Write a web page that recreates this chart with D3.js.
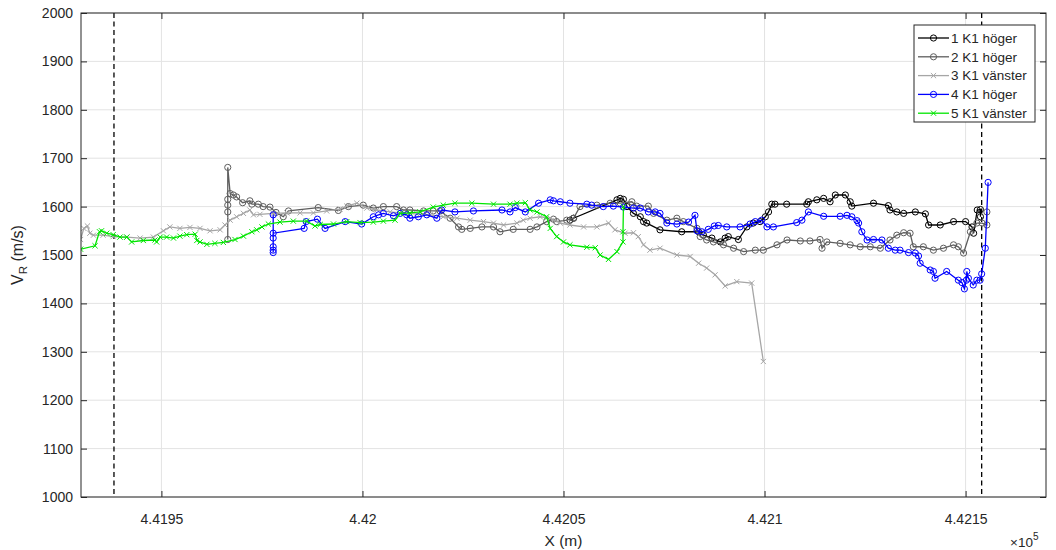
<!DOCTYPE html>
<html>
<head>
<meta charset="utf-8">
<script src="https://cdn.jsdelivr.net/npm/d3@7"></script>
<style>
  body { margin: 0; background: #fff; }
  svg text { font-family: "Liberation Sans", Arial, sans-serif; fill: #262626; }
</style>
</head>
<body>
<div id="main"></div>
<script>
// series data: [X (m), V_R (m/s)]
var s1 = [[442051.6,1572],[442052.5,1576],[442063.3,1614],[442064.1,1617],[442064.9,1615],[442065.8,1600],[442067.4,1586],[442069.1,1579],[442069.9,1569],[442070.7,1566],[442074.0,1552],[442079.4,1548],[442083.6,1548],[442084.8,1541],[442086.9,1535],[442089.0,1527],[442090.2,1535],[442091.0,1538],[442093.5,1532],[442095.6,1558],[442097.2,1566],[442098.9,1569],[442100.2,1579],[442101.0,1589],[442101.8,1605],[442102.6,1605],[442105.5,1605],[442110.5,1605],[442110.9,1610],[442113.0,1614],[442114.7,1617],[442116.3,1610],[442117.6,1624],[442120.1,1624],[442121.3,1610],[442121.7,1601],[442127.1,1607],[442130.8,1602],[442131.2,1593],[442132.9,1589],[442134.6,1586],[442137.5,1589],[442140.0,1585],[442140.8,1562],[442143.7,1562],[442147.0,1569],[442150.0,1569],[442151.6,1558],[442152.0,1545],[442152.9,1593],[442153.7,1594],[442153.7,1579]];

var s2 = [[441966.5,1532],[441966.5,1589],[441966.5,1603],[441966.5,1615],[441966.5,1681],[441967.1,1627],[441967.9,1624],[441968.7,1620],[441970.2,1608],[441972.0,1612],[441972.5,1605],[441974.1,1605],[441975.3,1600],[441977.0,1599],[441978.5,1588],[441980.3,1579],[441981.6,1591],[441989.0,1598],[441994.0,1592],[441996.5,1600],[442000.2,1603],[442002.7,1597],[442005.2,1600],[442008.5,1600],[442010.2,1593],[442011.8,1593],[442015.2,1591],[442017.6,1591],[442019.3,1591],[442021.8,1576],[442023.9,1558],[442024.7,1553],[442026.8,1555],[442029.7,1558],[442032.6,1558],[442034.2,1548],[442037.5,1553],[442041.7,1553],[442043.4,1558],[442045.8,1569],[442047.5,1574],[442048.3,1569],[442050.8,1572],[442052.5,1576],[442054.1,1600],[442058.3,1603],[442061.6,1607],[442064.1,1607],[442067.0,1610],[442068.2,1601],[442071.1,1601],[442072.4,1586],[442075.7,1572],[442078.2,1576],[442079.8,1569],[442083.2,1555],[442084.0,1538],[442085.6,1531],[442087.3,1527],[442089.8,1521],[442092.3,1514],[442094.8,1507],[442097.7,1510],[442099.7,1510],[442103.1,1521],[442105.6,1531],[442108.9,1529],[442111.3,1529],[442113.8,1532],[442114.3,1514],[442115.5,1527],[442118.8,1524],[442121.3,1521],[442123.8,1517],[442126.3,1517],[442128.8,1514],[442131.2,1531],[442132.9,1541],[442134.6,1546],[442136.2,1545],[442137.0,1517],[442139.5,1517],[442142.0,1510],[442144.5,1514],[442147.0,1521],[442148.2,1517],[442149.5,1504],[442151.2,1548],[442152.8,1566],[442154.1,1566],[442155.3,1562],[442155.3,1589]];

var s3 = [[441929.9,1532],[441930.7,1555],[441931.6,1560],[441932.2,1545],[441933.1,1541],[441935.5,1541],[441938.0,1538],[441941.4,1537],[441944.7,1535],[441948.0,1537],[441950.5,1550],[441952.1,1558],[441954.6,1555],[441957.1,1557],[441959.6,1555],[441962.1,1550],[441964.6,1552],[441965.8,1562],[441967.1,1572],[441968.7,1579],[441970.4,1586],[441972.0,1593],[441972.9,1583],[441974.5,1584],[441977.8,1586],[441981.2,1587],[441984.5,1587],[441987.8,1587],[441991.1,1591],[441994.4,1595],[441996.1,1601],[441998.6,1607],[442001.1,1597],[442003.6,1593],[442006.9,1589],[442010.2,1586],[442013.5,1585],[442016.8,1583],[442020.1,1579],[442023.5,1576],[442026.8,1572],[442030.1,1569],[442032.6,1566],[442035.1,1562],[442038.4,1566],[442040.0,1572],[442041.7,1576],[442044.2,1579],[442046.7,1576],[442049.2,1566],[442051.6,1562],[442055.0,1558],[442058.3,1558],[442061.2,1566],[442062.8,1552],[442065.3,1545],[442067.4,1546],[442068.6,1538],[442069.9,1521],[442071.5,1510],[442074.0,1514],[442078.2,1500],[442081.5,1497],[442083.6,1483],[442085.6,1473],[442087.7,1459],[442090.2,1436],[442093.1,1445],[442096.8,1442],[442099.7,1280]];

var s4 = [[441977.8,1583],[441977.8,1535],[441977.8,1517],[441977.8,1510],[441977.8,1505],[441977.8,1545],[441985.5,1555],[441986.0,1569],[441988.8,1574],[441990.7,1555],[441995.7,1569],[441999.8,1564],[442002.7,1579],[442004.0,1583],[442005.2,1586],[442007.7,1581],[442009.4,1586],[442011.0,1583],[442011.8,1576],[442013.9,1579],[442016.0,1583],[442018.5,1576],[442019.7,1593],[442023.0,1589],[442027.6,1591],[442034.7,1593],[442036.7,1589],[442038.0,1598],[442040.5,1589],[442043.8,1607],[442046.7,1614],[442047.5,1612],[442049.2,1610],[442051.6,1607],[442055.8,1605],[442057.0,1603],[442059.9,1600],[442062.4,1601],[442064.9,1599],[442067.4,1597],[442069.1,1597],[442071.1,1589],[442072.8,1589],[442074.0,1586],[442075.7,1566],[442078.2,1564],[442081.1,1568],[442082.7,1582],[442083.2,1550],[442084.4,1548],[442086.0,1553],[442087.5,1560],[442088.5,1561],[442090.6,1558],[442093.9,1558],[442096.4,1564],[442097.7,1569],[442099.3,1572],[442100.6,1558],[442102.2,1558],[442108.0,1567],[442109.3,1572],[442110.9,1589],[442114.7,1580],[442118.8,1580],[442120.5,1582],[442121.7,1579],[442123.0,1571],[442123.4,1566],[442124.2,1548],[442125.5,1531],[442127.1,1532],[442129.2,1531],[442130.8,1514],[442132.5,1510],[442133.7,1510],[442135.8,1505],[442137.5,1504],[442138.3,1498],[442138.7,1483],[442141.2,1469],[442142.0,1466],[442142.4,1452],[442145.3,1466],[442148.2,1448],[442149.1,1443],[442149.7,1430],[442150.2,1448],[442150.3,1466],[442150.7,1452],[442151.9,1438],[442152.8,1448],[442153.6,1448],[442154.0,1461],[442154.9,1514],[442155.6,1650]];

var s5 = [[441929.9,1512],[441933.5,1519],[441934.6,1548],[441935.1,1550],[441936.4,1545],[441938.0,1542],[441939.7,1537],[441941.4,1537],[441942.6,1527],[441945.5,1530],[441948.4,1531],[441948.8,1527],[441949.7,1537],[441951.3,1537],[441953.0,1535],[441954.6,1539],[441956.3,1542],[441958.4,1543],[441958.8,1530],[441959.6,1527],[441961.3,1522],[441963.3,1524],[441965.4,1526],[441968.3,1532],[441970.4,1539],[441972.5,1548],[441973.7,1552],[441975.0,1558],[441976.6,1564],[441979.5,1568],[441982.8,1570],[441986.1,1570],[441988.2,1560],[441989.5,1563],[441992.8,1564],[441996.1,1569],[441999.4,1567],[442002.7,1568],[442005.2,1570],[442008.1,1572],[442009.4,1586],[442011.8,1587],[442014.3,1589],[442017.6,1599],[442020.1,1603],[442023.0,1607],[442027.2,1607],[442032.6,1605],[442036.7,1605],[442038.4,1607],[442040.5,1608],[442041.7,1593],[442043.4,1589],[442045.8,1579],[442046.7,1555],[442048.3,1538],[442050.0,1527],[442051.6,1521],[442055.8,1516],[442057.9,1515],[442059.1,1500],[442061.2,1491],[442063.3,1507],[442064.8,1527],[442064.8,1548],[442064.9,1600]];

var seriesNames = ["1 K1 höger", "2 K1 höger", "3 K1 vänster", "4 K1 höger", "5 K1 vänster"];
var seriesColors = ["#000000", "#5e5e5e", "#a6a6a6", "#0000ff", "#00e600"];
var seriesMarkers = ["o", "o", "x", "o", "x"];
var seriesData = [s1, s2, s3, s4, s5];

var xTicks = [441950, 442000, 442050, 442100, 442150];
var xTickLabels = ["4.4195", "4.42", "4.4205", "4.421", "4.4215"];
var yTicks = d3.range(1000, 2001, 100);
var dashedX = [441938.2, 442154.0];

var width = 1056, height = 550;
var margin = { left: 81, top: 13, right: 10, bottom: 53 };

var svg = d3.select("#main").append("svg")
  .attr("width", width)
  .attr("height", height);

var x = d3.scaleLinear().domain([441930, 442170]).range([margin.left, width - margin.right]);
var y = d3.scaleLinear().domain([1000, 2000]).range([height - margin.bottom, margin.top]);

var x0 = x.range()[0], x1 = x.range()[1], y0 = y.range()[0], y1 = y.range()[1];

svg.append("clipPath").attr("id", "clip")
  .append("rect").attr("x", x0).attr("y", y1).attr("width", x1 - x0).attr("height", y0 - y1);

// grid
var grid = svg.append("g").attr("stroke", "#e3e3e3").attr("stroke-width", 1);
grid.selectAll(".gx").data(xTicks).enter().append("line")
  .attr("x1", function(d) { return x(d); }).attr("x2", function(d) { return x(d); })
  .attr("y1", y0).attr("y2", y1);
grid.selectAll(".gy").data(yTicks).enter().append("line")
  .attr("x1", x0).attr("x2", x1)
  .attr("y1", function(d) { return y(d); }).attr("y2", function(d) { return y(d); });

// axes (ticks inward, box)
var tickLen = 6;
svg.append("g").attr("transform", "translate(0," + y0 + ")")
  .call(d3.axisBottom(x).tickValues(xTicks).tickSize(-tickLen).tickPadding(17)
    .tickFormat(function(d, i) { return xTickLabels[i]; }))
  .call(function(g) { g.select(".domain").remove(); });
svg.append("g").attr("transform", "translate(0," + y1 + ")")
  .call(d3.axisTop(x).tickValues(xTicks).tickSize(-tickLen).tickFormat(""))
  .call(function(g) { g.select(".domain").remove(); });
svg.append("g").attr("transform", "translate(" + x0 + ",0)")
  .call(d3.axisLeft(y).tickValues(yTicks).tickSize(-tickLen).tickPadding(8).tickFormat(d3.format("d")))
  .call(function(g) { g.select(".domain").remove(); });
svg.append("g").attr("transform", "translate(" + x1 + ",0)")
  .call(d3.axisRight(y).tickValues(yTicks).tickSize(-tickLen).tickFormat(""))
  .call(function(g) { g.select(".domain").remove(); });

svg.selectAll(".tick line").attr("stroke", "#262626");
svg.selectAll(".tick text").attr("font-size", 14).style("fill", "#262626");

// dashed limits
svg.append("g").selectAll("line").data(dashedX).enter().append("line")
  .attr("x1", function(d) { return x(d); }).attr("x2", function(d) { return x(d); })
  .attr("y1", y1).attr("y2", y0)
  .attr("stroke", "#000").attr("stroke-width", 1.3).attr("stroke-dasharray", "5,3.5");

// series
var line = d3.line().x(function(d) { return x(d[0]); }).y(function(d) { return y(d[1]); });
var plot = svg.append("g").attr("clip-path", "url(#clip)");

function drawMarker(g, type, color, cx, cy) {
  if (type === "o") {
    g.append("circle").attr("cx", cx).attr("cy", cy).attr("r", 3.1)
      .attr("fill", "none").attr("stroke", color).attr("stroke-width", 1);
  } else {
    var s = 2.6;
    g.append("path")
      .attr("d", "M" + (cx - s) + "," + (cy - s) + "L" + (cx + s) + "," + (cy + s) +
        "M" + (cx - s) + "," + (cy + s) + "L" + (cx + s) + "," + (cy - s))
      .attr("stroke", color).attr("stroke-width", 1).attr("fill", "none");
  }
}

seriesData.forEach(function(data, i) {
  var g = plot.append("g");
  g.append("path").datum(data).attr("d", line)
    .attr("fill", "none").attr("stroke", seriesColors[i]).attr("stroke-width", 1.3);
  data.forEach(function(d) {
    drawMarker(g, seriesMarkers[i], seriesColors[i], x(d[0]), y(d[1]));
  });
});

// box
svg.append("rect").attr("x", x0).attr("y", y1).attr("width", x1 - x0).attr("height", y0 - y1)
  .attr("fill", "none").attr("stroke", "#262626").attr("stroke-width", 1);

// labels
svg.append("text").attr("x", (x0 + x1) / 2).attr("y", 546)
  .attr("text-anchor", "middle").attr("font-size", 15.5).text("X (m)");

var yl = svg.append("text").attr("transform", "translate(23," + ((y0 + y1) / 2) + ") rotate(-90)")
  .attr("text-anchor", "middle").attr("font-size", 16);
yl.append("tspan").text("V");
yl.append("tspan").attr("font-size", 11.5).attr("dy", 4).text("R");
yl.append("tspan").attr("dy", -4).text(" (m/s)");

var ex = svg.append("text").attr("x", 1010).attr("y", 547).attr("font-size", 13.5);
ex.append("tspan").text("×10");
ex.append("tspan").attr("font-size", 10).attr("dy", -7).text("5");

// legend
var lg = svg.append("g").attr("transform", "translate(914,25)");
lg.append("rect").attr("width", 121).attr("height", 97)
  .attr("fill", "#fff").attr("stroke", "#262626").attr("stroke-width", 1);
seriesNames.forEach(function(name, i) {
  var ly = 13 + i * 18.8;
  lg.append("line").attr("x1", 4).attr("x2", 35).attr("y1", ly).attr("y2", ly)
    .attr("stroke", seriesColors[i]).attr("stroke-width", 1.3);
  drawMarker(lg, seriesMarkers[i], seriesColors[i], 19.5, ly);
  lg.append("text").attr("x", 37).attr("y", ly + 4.8).attr("font-size", 13.5).text(name);
});
</script>
</body>
</html>
